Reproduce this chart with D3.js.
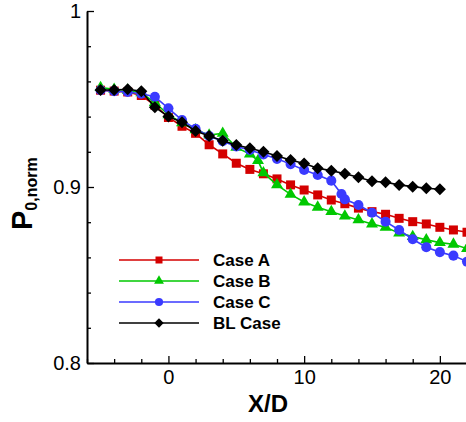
<!DOCTYPE html>
<html>
<head>
<meta charset="utf-8">
<script src="https://cdn.jsdelivr.net/npm/d3@7"></script>
<style>
  body { margin: 0; background: #fff; }
  svg { font-family: "Liberation Sans", Arial, sans-serif; }
</style>
</head>
<body>
<div id="chart"></div>
<script>
// series
var seriesNames = ["Case A", "Case B", "Case C", "BL Case"];

var caseAX = [-5,-4,-3,-2,-1,0,1,2,3,4,5,6,7,8,9,10,11,12,13,14,15,16,17,18,19,20,21,22];
var caseAP = [0.955,0.9545,0.954,0.952,0.9465,0.9395,0.9345,0.9305,0.924,0.9188,0.9135,0.910,0.9075,0.9046,0.9012,0.8983,0.8955,0.8926,0.8905,0.888,0.886,0.8845,0.8822,0.8803,0.879,0.8771,0.8756,0.8743];

var caseBX = [-5,-4,-3,-2,-1,0,1,2,3,4,5,6,6.6,7,8,9,10,11,12,13,14,15,16,17,18,19,20,21,22];
var caseBP = [0.9565,0.9555,0.955,0.9535,0.948,0.941,0.9365,0.9325,0.9295,0.9305,0.9225,0.9187,0.915,0.908,0.9012,0.8958,0.8915,0.8885,0.886,0.8835,0.8813,0.879,0.8771,0.8738,0.8718,0.870,0.8684,0.8675,0.865];

var caseCX = [-5,-4,-3,-2,-1,0,1,2,3,4,5,6,7,8,9,10,11,12,12.75,13,14,15,16,17,18,19,20,21,22];
var caseCP = [0.955,0.9545,0.954,0.953,0.9513,0.9447,0.938,0.933,0.929,0.926,0.923,0.921,0.9185,0.916,0.913,0.9097,0.9068,0.9036,0.896,0.893,0.8898,0.8854,0.8803,0.8756,0.8703,0.8658,0.863,0.861,0.8576];

var blX = [-5,-4,-3,-2,-1,0,1,2,3,4,5,6,7,8,9,10,11,12,13,14,15,16,17,18,19,20];
var blP = [0.9551,0.9551,0.9555,0.9544,0.9453,0.940,0.9368,0.9318,0.929,0.9263,0.9239,0.922,0.920,0.9176,0.9153,0.9133,0.9106,0.9093,0.9075,0.9055,0.9033,0.9027,0.9012,0.9002,0.8993,0.8987];

var xTicks = [0, 10, 20];
var xTickLabels = ["0", "10", "20"];
var xMinor = [-6,-4,-2,2,4,6,8,12,14,16,18,22];
var yTicks = [0.8, 0.9, 1];
var yTickLabels = ["0.8", "0.9", "1"];
var yMinor = [0.82,0.84,0.86,0.88,0.92,0.94,0.96,0.98];

var width = 466, height = 422;

var svg = d3.select("#chart").append("svg")
    .attr("width", width)
    .attr("height", height);

var x = d3.scaleLinear().domain([-6, 22]).range([87, 467]);
var y = d3.scaleLinear().domain([0.8, 1]).range([363, 11]);

var colors = ["#d40000", "#00c800", "#3a3aff", "#000000"];
var symbols = [d3.symbolSquare, d3.symbolTriangle, d3.symbolCircle, d3.symbolSquare];
var sizes = [81, 62, 80, 72];
var legendSizes = [49, 42, 52, 44];
var rotate = [0, 0, 0, 45];

var series = [
    {xs: caseAX, ps: caseAP},
    {xs: caseBX, ps: caseBP},
    {xs: caseCX, ps: caseCP},
    {xs: blX, ps: blP}
];

var line = d3.line()
    .x(function(d) { return x(d[0]); })
    .y(function(d) { return y(d[1]); });

series.forEach(function(s, i) {
    var pts = s.xs.map(function(v, j) { return [v, s.ps[j]]; });
    var g = svg.append("g");
    g.append("path")
        .datum(pts)
        .attr("d", line)
        .attr("fill", "none")
        .attr("stroke", colors[i])
        .attr("stroke-width", 1.6);
    g.selectAll("path.mk")
        .data(pts)
        .enter()
        .append("path")
        .attr("class", "mk")
        .attr("d", d3.symbol().type(symbols[i]).size(sizes[i]))
        .attr("transform", function(d) {
            return "translate(" + x(d[0]) + "," + y(d[1]) + ") rotate(" + rotate[i] + ")";
        })
        .attr("fill", colors[i]);
});

// axes, ticks pointing inward
var xAxis = svg.append("g")
    .attr("transform", "translate(0,363)")
    .call(d3.axisBottom(x).tickValues(xTicks)
        .tickFormat(function(d, i) { return xTickLabels[i]; })
        .tickSizeInner(-7).tickSizeOuter(0).tickPadding(4));
xAxis.selectAll(".tick")
    .data(xMinor, function(d) { return d; });
svg.append("g")
    .attr("transform", "translate(0,363)")
    .call(d3.axisBottom(x).tickValues(xMinor).tickFormat("")
        .tickSizeInner(-4).tickSizeOuter(0))
    .select(".domain").remove();

var yAxis = svg.append("g")
    .attr("transform", "translate(87,0)")
    .call(d3.axisLeft(y).tickValues(yTicks)
        .tickFormat(function(d, i) { return yTickLabels[i]; })
        .tickSizeInner(-7).tickSizeOuter(0).tickPadding(6));
svg.append("g")
    .attr("transform", "translate(87,0)")
    .call(d3.axisLeft(y).tickValues(yMinor).tickFormat("")
        .tickSizeInner(-4).tickSizeOuter(0))
    .select(".domain").remove();

svg.selectAll(".domain").attr("stroke", "#000").attr("stroke-width", 2);
svg.selectAll(".tick line").attr("stroke", "#000").attr("stroke-width", 1.3);
svg.selectAll(".tick text")
    .attr("font-family", "Liberation Sans, Arial, sans-serif")
    .attr("font-size", 20)
    .attr("fill", "#000");
xAxis.selectAll(".tick text").attr("dy", "0.85em");

// axis titles
svg.append("text")
    .attr("x", 268)
    .attr("y", 412)
    .attr("text-anchor", "middle")
    .attr("font-size", 24)
    .attr("font-weight", "bold")
    .text("X/D");

var yTitle = svg.append("text")
    .attr("transform", "translate(32,230) rotate(-90)")
    .attr("font-weight", "bold");
yTitle.append("tspan").attr("font-size", 29).text("P");
yTitle.append("tspan").attr("font-size", 16).attr("dy", 5).text("0,norm");

// legend
var legend = svg.append("g");
seriesNames.forEach(function(name, i) {
    var ly = 260 + i * 21;
    legend.append("line")
        .attr("x1", 119).attr("x2", 199)
        .attr("y1", ly).attr("y2", ly)
        .attr("stroke", colors[i])
        .attr("stroke-width", 1.6);
    legend.append("path")
        .attr("d", d3.symbol().type(symbols[i]).size(legendSizes[i]))
        .attr("transform", "translate(159," + ly + ") rotate(" + rotate[i] + ")")
        .attr("fill", colors[i]);
    legend.append("text")
        .attr("x", 213)
        .attr("y", ly + 6)
        .attr("font-size", 17)
        .attr("font-weight", "bold")
        .text(name);
});
</script>
</body>
</html>
